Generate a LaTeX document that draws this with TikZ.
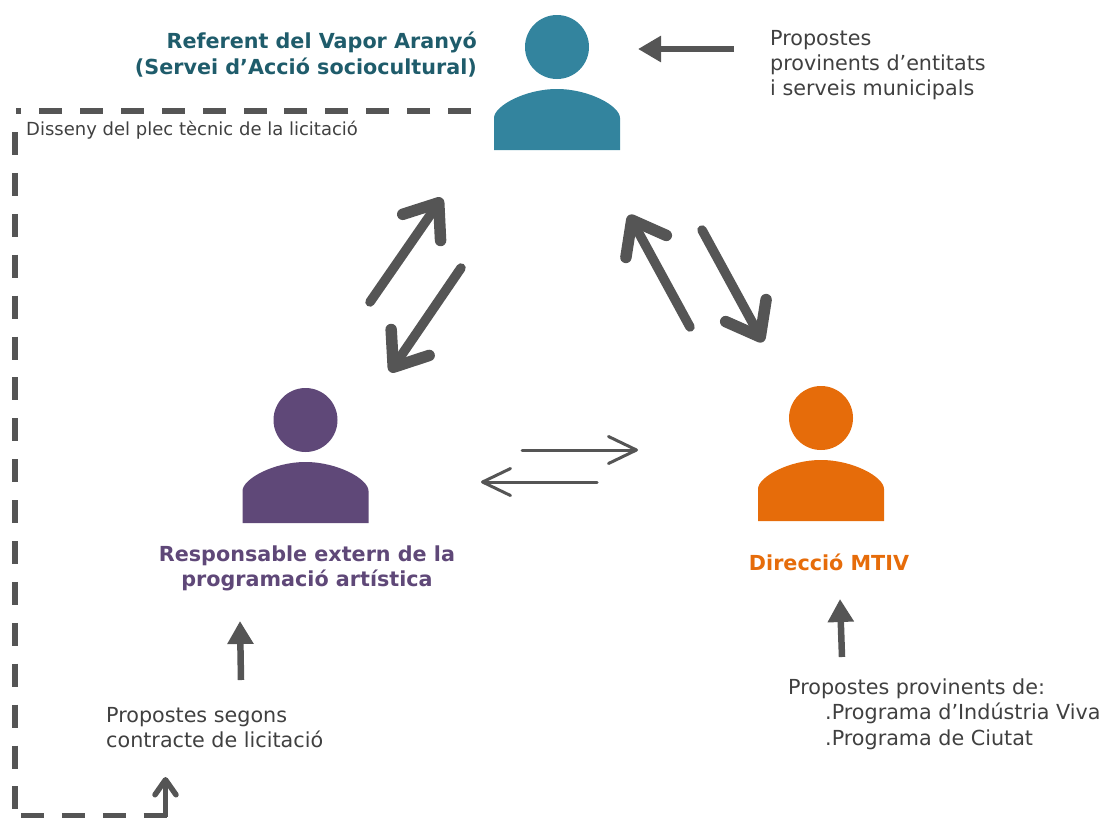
\documentclass[tikz,border=0pt]{standalone}
\usepackage{fontspec}
\setmainfont{DejaVu Sans}
\usetikzlibrary{arrows.meta}
\definecolor{teal1}{HTML}{33849E}
\definecolor{teal2}{HTML}{1F5C6B}
\definecolor{purp}{HTML}{5F4878}
\definecolor{oran}{HTML}{E66C0A}
\definecolor{arr}{HTML}{555555}
\definecolor{txt}{HTML}{404040}
\tikzset{
  x=1pt,y=-1pt,
  person/.pic={
    \path[pic actions] (0,-103) ellipse[x radius=32,y radius=32];
    \path[pic actions] (-63,0) -- (-63,-32) .. controls (-63,-44) and (-32,-61) .. (0,-61)
      .. controls (32,-61) and (63,-44) .. (63,-32) -- (63,0) -- cycle;
  },
  bigarrow/.style={draw=arr,line width=9.5pt,line cap=round,-{Straight Barb[length=30pt,width=46pt,round,line width=11.5pt]}},
  thinarrow/.style={draw=arr,line width=3pt,line cap=round,-{Straight Barb[length=28pt,width=27pt,round]}},
  blockarrow/.style={draw=arr,line width=6.5pt,-{Triangle[length=23pt,width=25pt]}},
  dashline/.style={draw=arr,line width=5.5pt,dash pattern=on 23pt off 17.9pt},
  lab/.style={anchor=base west,inner sep=0pt,text=txt,font=\fontsize{20.7}{25}\selectfont},
  small/.style={anchor=base west,inner sep=0pt,text=txt,font=\fontsize{18}{21}\selectfont},
  head/.style={anchor=base,inner sep=0pt,font=\fontsize{20.7}{25}\bfseries\selectfont},
}
\begin{document}
\begin{tikzpicture}
\useasboundingbox (0,0) rectangle (1107,817);
% persons
\pic[fill=teal1] at (557,150) {person};
\pic[fill=purp] at (305.5,523) {person};
\pic[fill=oran] at (821,521) {person};
% labels
\node[head,anchor=base east,text=teal2] (t1) at (477,48) {Referent del Vapor Aranyó};
\node[head,anchor=base east,text=teal2] (t2) at (477,74) {(Servei d’Acció sociocultural)};
\node[head,text=purp] (t3) at (307,561) {Responsable extern de la};
\node[head,text=purp] (t4) at (307,586) {programació artística};
\node[head,text=oran] (t5) at (829,570) {Direcció MTIV};
\node[lab] (p1) at (770,45) {Propostes};
\node[lab] (p2) at (770,70) {provinents d’entitats};
\node[lab] (p3) at (770,95) {i serveis municipals};
\node[lab] (s1) at (106,722) {Propostes segons};
\node[lab] (s2) at (106,747) {contracte de licitació};
\node[lab] (d1) at (788,694) {Propostes provinents de:};
\node[lab] (d2) at (825,719) {.Programa d’Indústria Viva};
\node[lab] (d3) at (825,745) {.Programa de Ciutat};
\node[small] (dd) at (26,135) {Disseny del plec tècnic de la licitació};
% coordinates
\coordinate (a1) at (370,302); \coordinate (a2) at (442,198);
\coordinate (b1) at (461,268); \coordinate (b2) at (390,372);
\coordinate (c1) at (690,327); \coordinate (c2) at (629,215);
\coordinate (e1) at (702,230); \coordinate (e2) at (763,342);
\coordinate (f1) at (522,450); \coordinate (f2) at (638,450);
\coordinate (g1) at (597,482); \coordinate (g2) at (481,482);
\coordinate (h1) at (734,49); \coordinate (h2) at (638,49);
\coordinate (i1) at (241,680); \coordinate (i2) at (240,621);
\coordinate (j1) at (842,657); \coordinate (j2) at (840,599);
\coordinate (k1) at (165.5,817); \coordinate (k2) at (165.5,777);
\coordinate (m1) at (471,111); \coordinate (m2) at (16,111);
\coordinate (n1) at (15,132); \coordinate (n2) at (15,813);
\coordinate (o1) at (21,816); \coordinate (o2) at (168,816);
% connectors
\draw[bigarrow] (a1) -- (a2);
\draw[bigarrow] (b1) -- (b2);
\draw[bigarrow] (c1) -- (c2);
\draw[bigarrow] (e1) -- (e2);
\draw[thinarrow] (f1) -- (f2);
\draw[thinarrow] (g1) -- (g2);
\draw[blockarrow] (h1) -- (h2);
\draw[blockarrow] (i1) -- (i2);
\draw[blockarrow] (j1) -- (j2);
\draw[dashline] (m1) -- (m2);
\draw[dashline] (n1) -- (n2);
\draw[dashline] (o1) -- (o2);
\draw[draw=arr,line width=5.5pt,-{Straight Barb[length=15pt,width=21pt,round]}] (k1) -- (k2);
\end{tikzpicture}
\end{document}
